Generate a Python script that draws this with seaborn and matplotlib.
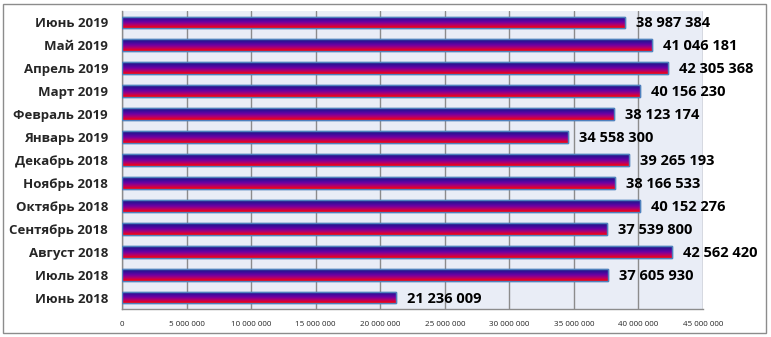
import matplotlib
matplotlib.use("Agg")
import matplotlib.pyplot as plt
import seaborn as sns
import numpy as np
import pandas as pd
from matplotlib.colors import LinearSegmentedColormap
from matplotlib.patches import Rectangle

months = ["Июнь 2019", "Май 2019", "Апрель 2019", "Март 2019", "Февраль 2019",
          "Январь 2019", "Декабрь 2018", "Ноябрь 2018", "Октябрь 2018",
          "Сентябрь 2018", "Август 2018", "Июль 2018", "Июнь 2018"]
values = [38987384, 41046181, 42305368, 40156230, 38123174, 34558300,
          39265193, 38166533, 40152276, 37539800, 42562420, 37605930, 21236009]
xticks = [0, 5000000, 10000000, 15000000, 20000000, 25000000, 30000000,
          35000000, 40000000, 45000000]

df = pd.DataFrame({"month": months, "value": values})

sns.set_style("white")
plt.rcParams["font.family"] = ["Open Sans", "DejaVu Sans"]

fig = plt.figure(figsize=(7.71, 3.37), dpi=100)
ax = fig.add_axes([122/771, 1 - 309/337, (703 - 122)/771, (309 - 11)/337])
ax.set_facecolor("#e9edf6")

sns.barplot(data=df, x="value", y="month", orient="h", ax=ax, width=0.52,
            color="#5a0aa0", edgecolor="#4f81bd", linewidth=1.0, zorder=3)

cmap = LinearSegmentedColormap.from_list(
    "grad", ["#1a1f80", "#3a0c9a", "#7000a4", "#b80068", "#ff0000"])
grad = np.linspace(0, 1, 64).reshape(-1, 1)
for p in list(ax.patches):
    x0, y0 = p.get_x(), p.get_y()
    w, h = p.get_width(), p.get_height()
    im = ax.imshow(grad, cmap=cmap, aspect="auto", origin="upper",
                   extent=(x0, x0 + w, y0 + h, y0), zorder=3.5,
                   interpolation="bilinear")
    im.set_clip_path(p)
    ax.add_patch(Rectangle((x0, y0), w, h, fill=False, edgecolor="#4f81bd",
                           linewidth=1.0, zorder=4))

for i, v in enumerate(values):
    ax.annotate(f"{v:,}".replace(",", " "), xy=(v, i), xytext=(11, -5),
                textcoords="offset pixels", va="baseline", ha="left",
                fontsize=10.5, fontweight="bold", color="#000000", zorder=5)

ax.set_xlim(0, 45000000)
ax.set_ylim(len(months) - 0.5, -0.5)
ax.set_xticks(xticks)
ax.set_xticklabels([f"{t:,}".replace(",", " ") for t in xticks], fontsize=5.8)
ax.grid(axis="x", color="#8c8c8c", linewidth=1.0, zorder=1)
ax.grid(axis="y", visible=False)
ax.set_axisbelow(True)
ax.set_xlabel("")
ax.set_ylabel("")
for lbl in ax.get_yticklabels():
    lbl.set_fontweight("bold")
    lbl.set_fontsize(9.5)
ax.set_yticks(np.arange(len(months)) - 0.5, minor=True)
ax.tick_params(axis="y", which="major", length=0, pad=10)
ax.tick_params(axis="y", which="minor", length=5, color="#8c8c8c", width=1,
               direction="out")
ax.tick_params(axis="x", length=5, color="#8c8c8c", width=1, direction="out",
               pad=4)
for s in ["top", "right"]:
    ax.spines[s].set_visible(False)
for s in ["left", "bottom"]:
    ax.spines[s].set_color("#8c8c8c")
    ax.spines[s].set_linewidth(1.0)

fig.add_artist(Rectangle((3/771, 4/337), 763/771, 329/337,
                         transform=fig.transFigure, fill=False,
                         edgecolor="#8c8c8c", linewidth=1.0))

fig.savefig("out.png", dpi=100)
